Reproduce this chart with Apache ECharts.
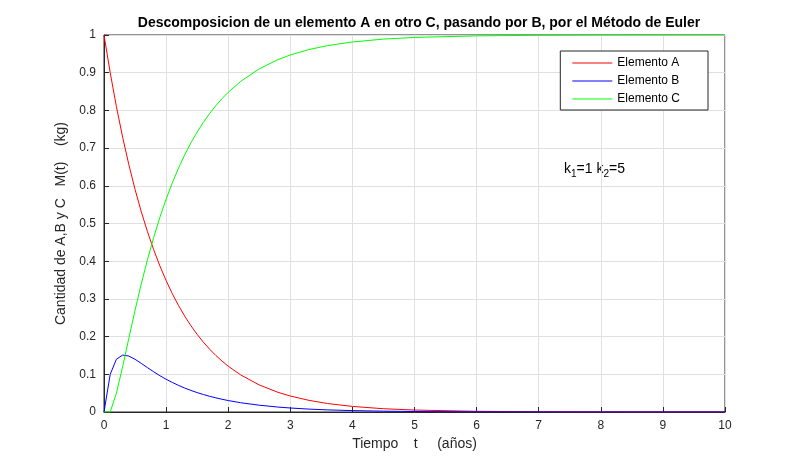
<!DOCTYPE html>
<html><head><meta charset="utf-8">
<script src="https://cdn.jsdelivr.net/npm/echarts@6/dist/echarts.min.js"></script>
<style>body{margin:0}#c{width:800px;height:464px}</style></head>
<body><div id="c"></div>
<script>
var t = [0,0.1,0.2,0.3,0.4,0.5,0.6,0.7,0.8,0.9,1.0,1.1,1.2,1.3,1.4,1.5,1.6,1.7,1.8,1.9,2.0,2.2,2.5,2.8,3.0,3.3,3.6,4.0,4.5,5,6,7,8,10];
var A = [1,0.9,0.81,0.729,0.6561,0.5905,0.5314,0.4783,0.4305,0.3874,0.3487,0.3138,0.2824,0.2542,0.2288,0.2059,0.1853,0.1668,0.1501,0.1351,0.1216,0.0985,0.0718,0.0523,0.0424,0.0309,0.0225,0.0148,0.0087,0.0052,0.0018,0.0006,0.0002,0.00003];
var B = [0,0.1,0.14,0.151,0.1484,0.1398,0.1289,0.1176,0.1066,0.0963,0.0869,0.0784,0.0706,0.0635,0.0572,0.0515,0.0464,0.0417,0.0376,0.0338,0.0304,0.0246,0.0180,0.0131,0.0106,0.0077,0.0056,0.0037,0.0022,0.0013,0.00045,0.00015,0.00005,0.00001];
var C = [0,0,0.05,0.12,0.1955,0.2697,0.3397,0.4041,0.4629,0.5163,0.5644,0.6078,0.6470,0.6823,0.7140,0.7426,0.7683,0.7915,0.8123,0.8311,0.8480,0.8769,0.9102,0.9346,0.9470,0.9614,0.9719,0.9815,0.9891,0.9935,0.9977,0.9992,0.9997,1.0];
function pts(v){return t.map(function(x,i){return [x,v[i]];});}
var ax = {color:'#262626',fontSize:12,fontFamily:'Liberation Sans'};
var ch = echarts.init(document.getElementById('c'));
ch.setOption({
  animation:false,
  backgroundColor:'#fff',
  title:{text:'Descomposicion de un elemento A en otro C, pasando por B, por el Método de Euler',left:414,top:11,textAlign:'center',
    textStyle:{fontSize:14,fontWeight:'bold',color:'#000',fontFamily:'Liberation Sans'}},
  grid:{left:104,right:75,top:35,bottom:52,show:true,borderColor:'#262626',borderWidth:1,backgroundColor:'#fff'},
  xAxis:{type:'value',min:0,max:10,interval:1,name:'Tiempo    t     (años)',nameLocation:'middle',nameGap:24,
    nameTextStyle:{fontSize:14,color:'#262626',fontFamily:'Liberation Sans'},
    axisLine:{lineStyle:{color:'#262626'}},axisTick:{inside:true,length:5,lineStyle:{color:'#262626'}},
    axisLabel:ax,splitLine:{lineStyle:{color:'#e0e0e0'}}},
  yAxis:{type:'value',min:0,max:1,interval:0.1,name:'Cantidad de A,B y C   M(t)    (kg)',nameLocation:'middle',nameGap:34,
    nameTextStyle:{fontSize:14,color:'#262626',fontFamily:'Liberation Sans'},
    axisLine:{show:true,lineStyle:{color:'#262626'}},axisTick:{show:true,inside:true,length:5,lineStyle:{color:'#262626'}},
    axisLabel:Object.assign({formatter:function(v){return Math.round(v*10)/10+'';}},ax),splitLine:{lineStyle:{color:'#e0e0e0'}}},
  legend:{orient:'vertical',right:92,top:51,itemGap:6,itemWidth:40,itemHeight:1,padding:[6,28,5,12],
    backgroundColor:'#fff',borderColor:'#262626',borderWidth:1,borderRadius:0,
    textStyle:{fontSize:12,color:'#000',fontFamily:'Liberation Sans'},
    data:[{name:'Elemento A',icon:'rect'},{name:'Elemento B',icon:'rect'},{name:'Elemento C',icon:'rect'}]},
  graphic:[{type:'text',left:564,top:162,style:{
    text:'{n|k}{s|1}{n|=1 k}{s|2}{n|=5}',
    rich:{n:{fontSize:14,fontFamily:'Liberation Sans',fill:'#000'},s:{fontSize:10,fontFamily:'Liberation Sans',fill:'#000',padding:[10,0,0,0]}}}}],
  series:[
    {name:'Elemento A',type:'line',data:pts(A),showSymbol:false,lineStyle:{color:'#ff0000',width:1},itemStyle:{color:'#ff0000'}},
    {name:'Elemento B',type:'line',data:pts(B),showSymbol:false,lineStyle:{color:'#0000ff',width:1},itemStyle:{color:'#0000ff'}},
    {name:'Elemento C',type:'line',data:pts(C),showSymbol:false,lineStyle:{color:'#00ff00',width:1},itemStyle:{color:'#00ff00'}}
  ]
});
</script></body></html>
